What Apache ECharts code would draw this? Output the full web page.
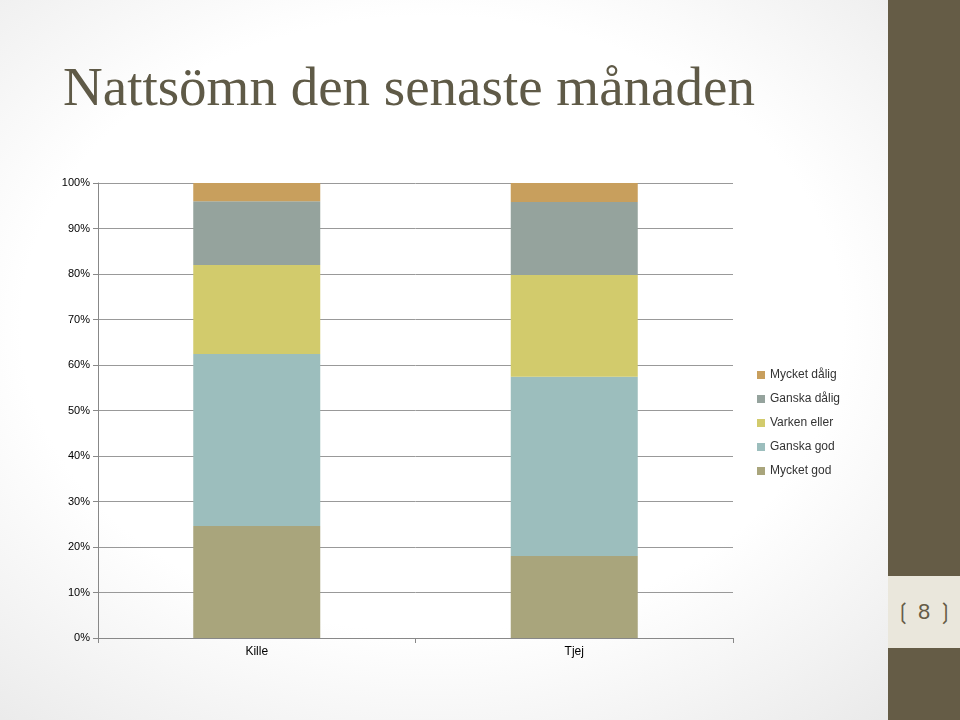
<!DOCTYPE html>
<html><head><meta charset="utf-8">
<script src="https://cdn.jsdelivr.net/npm/echarts@6/dist/echarts.min.js"></script>
<style>
html,body{margin:0;padding:0;}
#bg{position:absolute;left:0;top:0;width:960px;height:720px;background:radial-gradient(ellipse at 45% 45%,#ffffff 0%,#ffffff 55%,#e6e6e6 100%);}
#strip{position:absolute;left:888px;top:0;width:72px;height:720px;background:#655C46;}
#pg{position:absolute;left:888px;top:576px;width:72px;height:72px;background:#EAE7DC;color:#655C46;font:22px "Liberation Sans",sans-serif;text-align:center;line-height:72px;}
#c{position:absolute;left:0;top:0;width:960px;height:720px;}
</style></head><body>
<div id="bg"></div><div id="strip"></div><div id="pg">❲ 8 ❳</div>
<div id="c"></div>
<script>
const categories=["Kille","Tjej"];
const mycketGod=[24.6,18.0];
const ganskaGod=[37.8,39.4];
const varkenEller=[19.6,22.4];
const ganskaDalig=[14.0,16.0];
const mycketDalig=[4.0,4.2];
const names=["Mycket god","Ganska god","Varken eller","Ganska dålig","Mycket dålig"];
const colors=["#A9A57C","#9CBEBD","#D2CB6C","#95A39D","#C89F5D"];
const vals=[mycketGod,ganskaGod,varkenEller,ganskaDalig,mycketDalig];
const chart=echarts.init(document.getElementById('c'));
chart.setOption({
 title:{text:"Nattsömn den senaste månaden",left:58,top:58,textStyle:{fontFamily:"Liberation Serif",fontWeight:"normal",fontSize:55,color:"#5F5A47"}},
 legend:{orient:"vertical",left:752,top:364,itemWidth:8,itemHeight:8,itemGap:12,icon:"rect",
  data:names.slice().reverse(),textStyle:{fontFamily:"Liberation Sans",fontSize:12,color:"#333"}},
 grid:{left:98,right:227,top:183,bottom:82},
 xAxis:{type:"category",data:categories,axisLine:{lineStyle:{color:"#888"}},axisTick:{show:true,lineStyle:{color:"#888"}},
  axisLabel:{color:"#000",fontFamily:"Liberation Sans",fontSize:12}},
 yAxis:{type:"value",min:0,max:100,interval:10,axisLabel:{formatter:"{value}%",color:"#000",fontFamily:"Liberation Sans",fontSize:11},
  axisLine:{show:true,lineStyle:{color:"#888"}},axisTick:{show:true,lineStyle:{color:"#888"}},splitLine:{lineStyle:{color:"#999"}}},
 series:names.map((n,i)=>({name:n,type:"bar",stack:"a",barWidth:"40%",data:vals[i],itemStyle:{color:colors[i]}}))
});
</script></body></html>
